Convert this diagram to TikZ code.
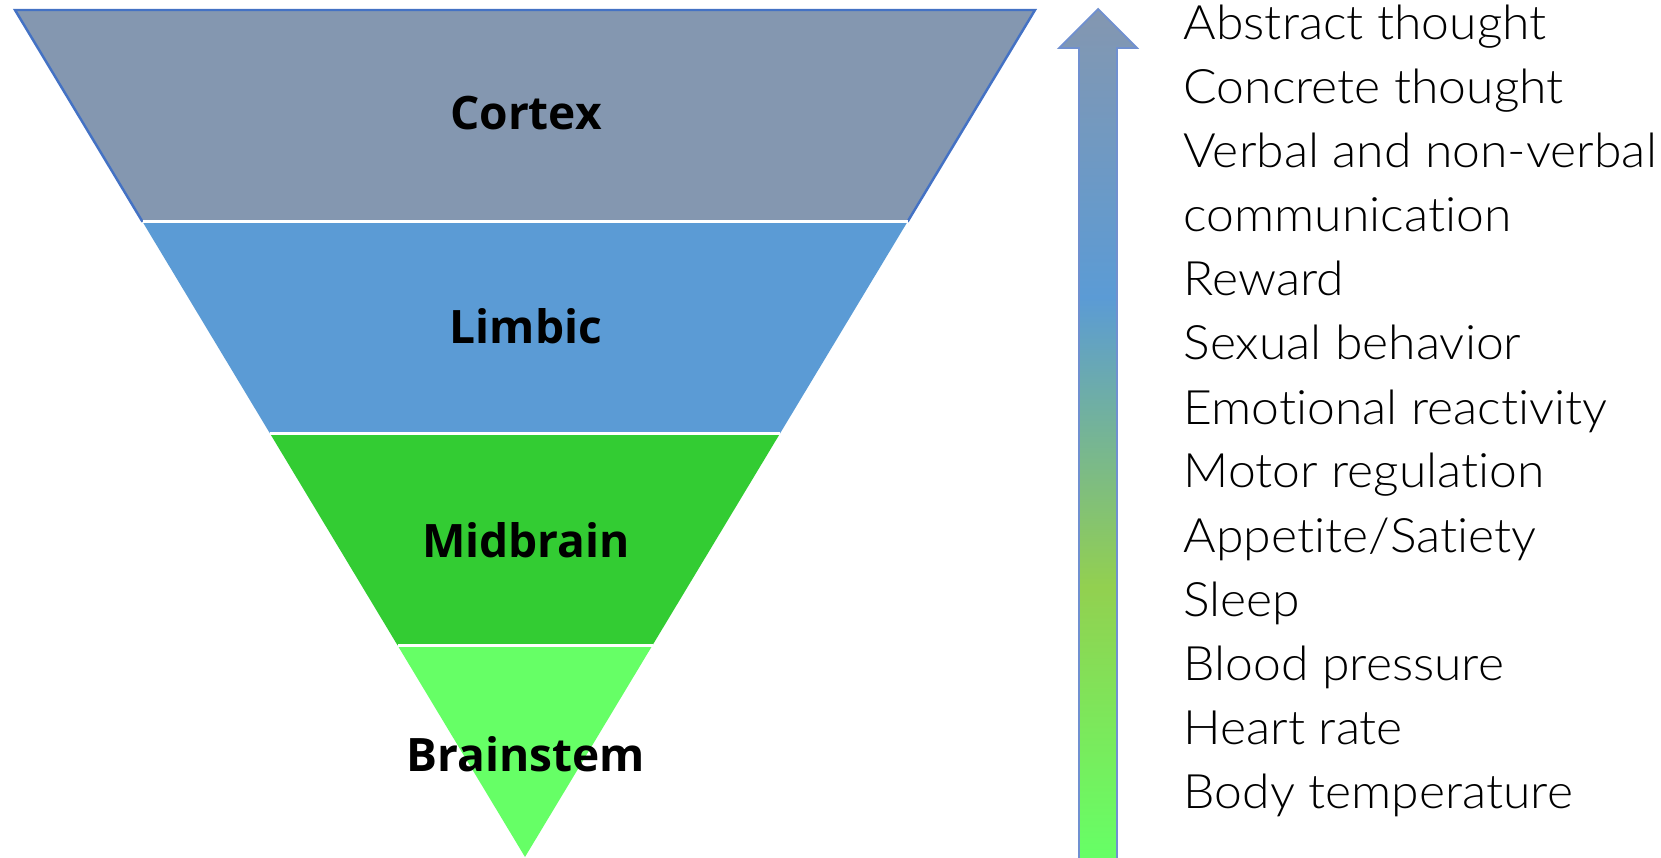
\documentclass[tikz,border=0pt]{standalone}
\usepackage{fontspec}
\setmainfont{Open Sans}
\newfontfamily\thinfont{Lato Light}[Ligatures=NoCommon, FakeStretch=1.05]
\usepackage{tikz}
\usetikzlibrary{calc}

\definecolor{cortexgray}{HTML}{8497B0}
\definecolor{limbicblue}{HTML}{5B9BD5}
\definecolor{midgreen}{HTML}{33CC33}
\definecolor{stemgreen}{HTML}{66FF66}
\definecolor{edgeblue}{HTML}{4472C4}
\definecolor{arrowedge}{HTML}{7090D0}
\definecolor{yellowgreen}{HTML}{92D050}

\pgfdeclareverticalshading{upfade}{100bp}{color(0bp)=(stemgreen); color(25bp)=(stemgreen);
  color(41bp)=(yellowgreen); color(58bp)=(limbicblue); color(75bp)=(cortexgray); color(100bp)=(cortexgray)}

\begin{document}
\begin{tikzpicture}[x=0.01cm, y=-0.01cm,
  layer/.style={font=\bfseries\fontsize{13.1}{15}\selectfont},
  func/.style={anchor=base west, inner sep=0pt, font=\thinfont\fontsize{13.5}{15}\selectfont}]
\useasboundingbox (0,0) rectangle (1661,858);

\coordinate (tl) at (15,10);
\coordinate (tr) at (1035,10);
\coordinate (tip) at (525,857);

\fill[cortexgray] (tl) -- (tr) -- ($(tr)!0.25!(tip)$) -- ($(tl)!0.25!(tip)$) -- cycle;
\fill[limbicblue] ($(tl)!0.25!(tip)$) -- ($(tr)!0.25!(tip)$) -- ($(tr)!0.5!(tip)$) -- ($(tl)!0.5!(tip)$) -- cycle;
\fill[midgreen] ($(tl)!0.5!(tip)$) -- ($(tr)!0.5!(tip)$) -- ($(tr)!0.75!(tip)$) -- ($(tl)!0.75!(tip)$) -- cycle;
\fill[stemgreen] ($(tl)!0.75!(tip)$) -- ($(tr)!0.75!(tip)$) -- (tip) -- cycle;
\draw[edgeblue, line width=0.7pt] ($(tl)!0.25!(tip)$) -- (tl) -- (tr) -- ($(tr)!0.25!(tip)$);
\draw[white, line width=0.8pt] ($(tl)!0.25!(tip)$) -- ($(tr)!0.25!(tip)$);
\draw[white, line width=0.8pt] ($(tl)!0.5!(tip)$) -- ($(tr)!0.5!(tip)$);
\draw[white, line width=0.8pt] ($(tl)!0.75!(tip)$) -- ($(tr)!0.75!(tip)$);

\node[layer] (cortex) at (526,113) {Cortex};
\node[layer] (limbic) at (526,326) {Limbic};
\node[layer] (midbrain) at (526,540) {Midbrain};
\node[layer] (brainstem) at (526,754) {Brainstem};

% arrow from bottom to top
\shadedraw[shading=upfade, draw=arrowedge, line width=0.5pt] (1079,858) -- (1079,48) -- (1059,48) -- (1098,9) -- (1137,48) -- (1117,48) -- (1117,858);

\node[func] (abstract) at (1183,40) {Abstract thought};
\node[func] (concrete) at (1183,104) {Concrete thought};
\node[func] (verbal) at (1183,168) {Verbal and non-verbal};
\node[func] (communication) at (1183,232) {communication};
\node[func] (reward) at (1183,296) {Reward};
\node[func] (sexual) at (1183,360) {Sexual behavior};
\node[func] (emotional) at (1183,424) {Emotional reactivity};
\node[func] (motor) at (1183,488) {Motor regulation};
\node[func] (appetite) at (1183,552) {Appetite/Satiety};
\node[func] (sleep) at (1183,616) {Sleep};
\node[func] (blood) at (1183,680) {Blood pressure};
\node[func] (heart) at (1183,744) {Heart rate};
\node[func] (body) at (1183,808) {Body temperature};
\end{tikzpicture}
\end{document}
